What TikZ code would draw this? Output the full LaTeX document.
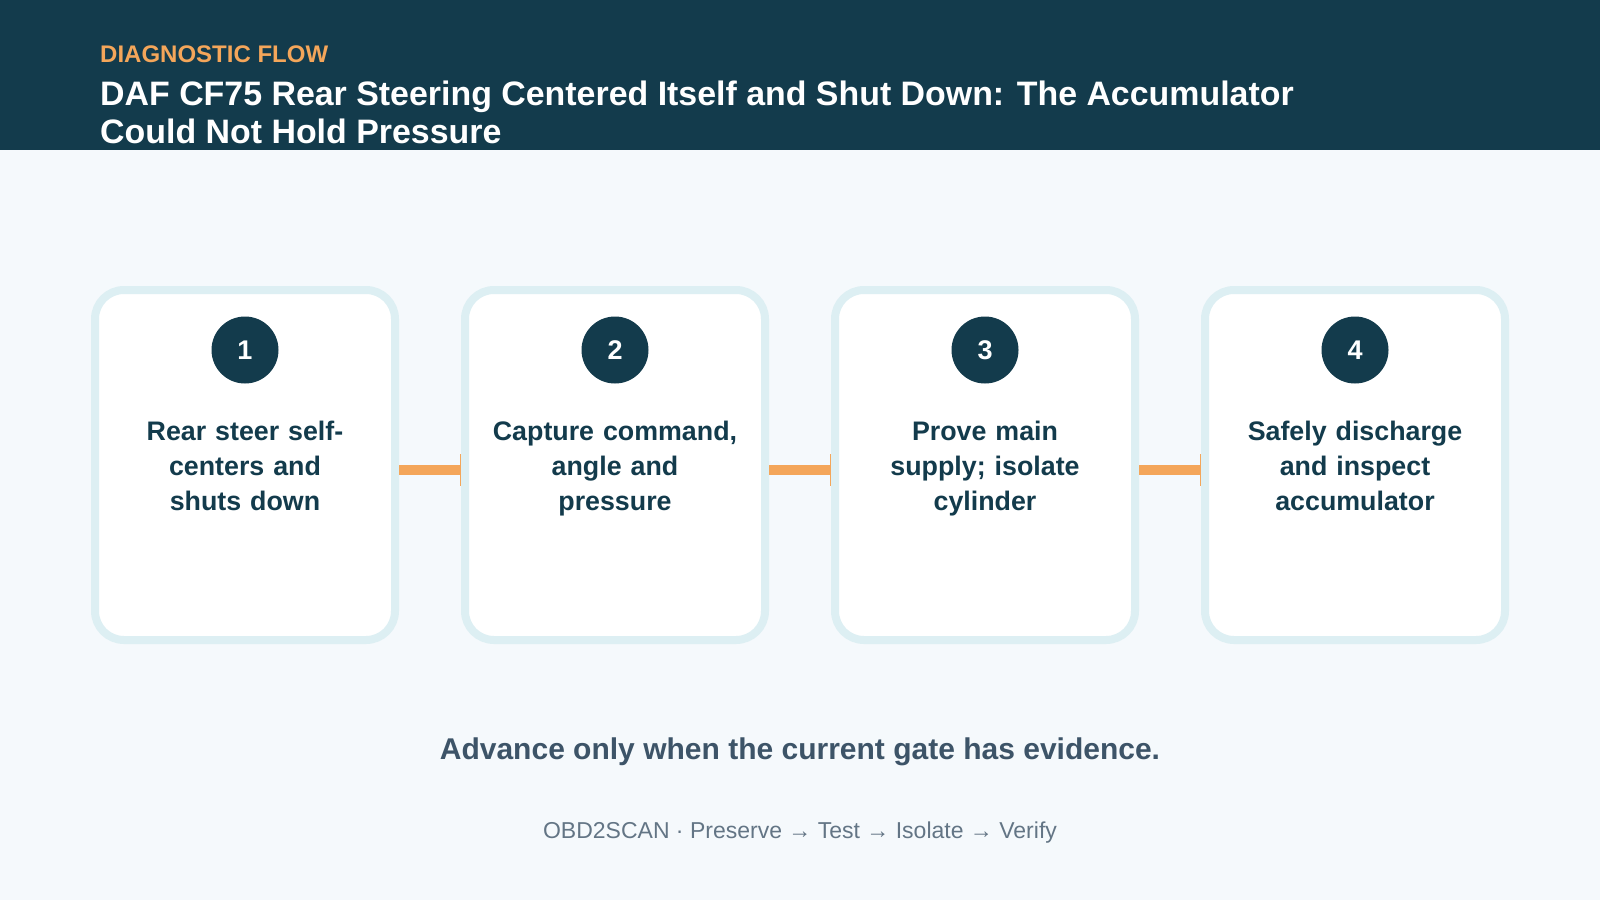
\documentclass[tikz,border=0pt]{standalone}
\usepackage{fontspec}
\setmainfont{Liberation Sans}
\usetikzlibrary{arrows.meta}

\definecolor{navy}{RGB}{19,59,76}
\definecolor{flow}{RGB}{244,166,90}
\definecolor{cardedge}{RGB}{221,239,243}
\definecolor{pagebg}{RGB}{245,249,252}
\definecolor{notegray}{RGB}{61,84,104}
\definecolor{brandgray}{RGB}{99,117,133}

\tikzset{
  card/.style={draw=cardedge, line width=8pt, fill=white, rounded corners=29pt,
    minimum width=300pt, minimum height=350pt},
  badge/.style={circle, fill=navy, minimum size=67pt, inner sep=0pt,
    text=white, font=\fontsize{27}{27}\selectfont\bfseries},
  steptext/.style={text width=270pt, align=center, inner sep=0pt, text=navy,
    font=\fontsize{26.8}{35}\selectfont\bfseries},
  link/.style={draw=flow, line width=10pt, -{Bar[width=32pt, line width=1.2pt]}}
}

\begin{document}
\begin{tikzpicture}[x=1pt, y=-1pt]
	\useasboundingbox (0,0) rectangle (1600,900);
	\fill[pagebg] (0,0) rectangle (1600,900);
	\fill[navy] (0,0) rectangle (1600,150);
	
	% header
	\node[anchor=base west, inner sep=0pt, text=flow, font=\fontsize{24}{24}\selectfont\bfseries] (kicker) at (100,62) {DIAGNOSTIC FLOW};
	\node[anchor=base west, inner sep=0pt, text=white, font=\fontsize{33.9}{38}\selectfont\bfseries] (title1) at (100,105) {DAF CF75 Rear Steering Centered Itself and Shut Down: The Accumulator};
	\node[anchor=base west, inner sep=0pt, text=white, font=\fontsize{33.9}{38}\selectfont\bfseries] (title2) at (100,143) {Could Not Hold Pressure};
	
	% cards
	\node[card] (c1) at ( 245,465) {};
	\node[card] (c2) at ( 615,465) {};
	\node[card] (c3) at ( 985,465) {};
	\node[card] (c4) at (1355,465) {};
	
	\draw[link] (c1.east |- 0,470) -- (c2.west |- 0,470);
	\draw[link] (c2.east |- 0,470) -- (c3.west |- 0,470);
	\draw[link] (c3.east |- 0,470) -- (c4.west |- 0,470);
	
	\node[badge] (b1) at ( 245,350) {1};
	\node[badge] (b2) at ( 615,350) {2};
	\node[badge] (b3) at ( 985,350) {3};
	\node[badge] (b4) at (1355,350) {4};
	
	\node[steptext, anchor=base] (t1) at ( 245,440) {Rear steer self-\\centers and\\shuts down};
	\node[steptext, anchor=base] (t2) at ( 615,440) {Capture command,\\angle and\\pressure};
	\node[steptext, anchor=base] (t3) at ( 985,440) {Prove main\\supply; isolate\\cylinder};
	\node[steptext, anchor=base] (t4) at (1355,440) {Safely discharge\\and inspect\\accumulator};
	
	% footer
	\node[anchor=base, inner sep=0pt, text=notegray, font=\fontsize{30}{30}\selectfont\bfseries] (note) at (800,759) {Advance only when the current gate has evidence.};
	\node[anchor=base, inner sep=0pt, text=brandgray, font=\fontsize{23}{23}\selectfont] (brand) at (800,838) {OBD2SCAN · Preserve → Test → Isolate → Verify};
\end{tikzpicture}
\end{document}
